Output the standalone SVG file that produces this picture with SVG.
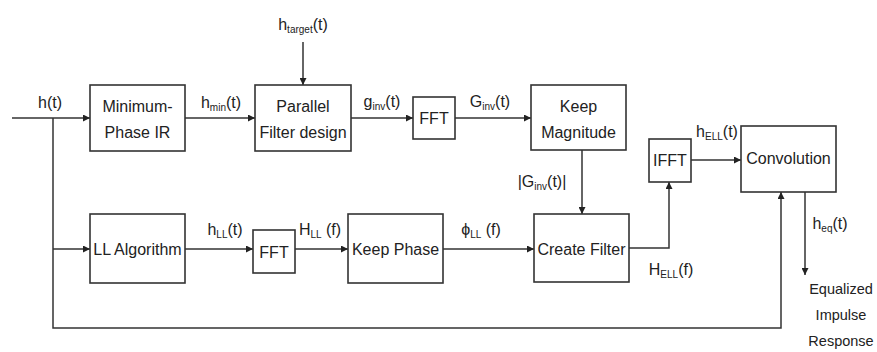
<svg xmlns="http://www.w3.org/2000/svg" width="877" height="352" viewBox="0 0 877 352">
<defs>
<marker id="arr" viewBox="0 0 10 10" refX="10" refY="5" markerWidth="7" markerHeight="7" markerUnits="userSpaceOnUse" orient="auto">
<path d="M0,0 L10,5 L0,10 z" fill="#222"/>
</marker>
<style>
.box{fill:#fff;stroke:#333;stroke-width:1.6}
.t{font-family:"Liberation Sans",Arial,sans-serif;font-size:16px;fill:#222;text-anchor:middle}
.s{font-size:10px}
.o{font-size:14.5px}
.c{fill:none;stroke:#333;stroke-width:1.5}
</style>
</defs>
<rect width="877" height="352" fill="#fff"/>
<g id="connectors">
<path class="c" d="M12 118 H90" marker-end="url(#arr)"/>
<path class="c" d="M185 118 H255" marker-end="url(#arr)"/>
<path class="c" d="M303 42 V85" marker-end="url(#arr)"/>
<path class="c" d="M351 118 H413" marker-end="url(#arr)"/>
<path class="c" d="M455 118 H531" marker-end="url(#arr)"/>
<path class="c" d="M582 150 V214" marker-end="url(#arr)"/>
<path class="c" d="M629 248 H669 V182" marker-end="url(#arr)"/>
<path class="c" d="M691 160 H741" marker-end="url(#arr)"/>
<path class="c" d="M805 192 V275" marker-end="url(#arr)"/>
<path class="c" d="M53 118 V328 H781 V192" marker-end="url(#arr)"/>
<path class="c" d="M53 249 H90" marker-end="url(#arr)"/>
<path class="c" d="M185 249 H253" marker-end="url(#arr)"/>
<path class="c" d="M295 249 H348" marker-end="url(#arr)"/>
<path class="c" d="M443 249 H534" marker-end="url(#arr)"/>
</g>
<g id="labels">
<text class="t" x="50" y="108">h(t)</text>
<text class="t" x="221" y="108">h<tspan class="s" dy="3">min</tspan><tspan dy="-3">(t)</tspan></text>
<text class="t" x="303" y="30">h<tspan class="s" dy="3">target</tspan><tspan dy="-3">(t)</tspan></text>
<text class="t" x="382" y="107">g<tspan class="s" dy="3">inv</tspan><tspan dy="-3">(t)</tspan></text>
<text class="t" x="490" y="107">G<tspan class="s" dy="3">inv</tspan><tspan dy="-3">(t)</tspan></text>
<text class="t" x="542" y="187">|G<tspan class="s" dy="3">inv</tspan><tspan dy="-3">(t)|</tspan></text>
<text class="t" x="717" y="137">h<tspan class="s" dy="3">ELL</tspan><tspan dy="-3">(t)</tspan></text>
<text class="t" x="671" y="275">H<tspan class="s" dy="3">ELL</tspan><tspan dy="-3">(f)</tspan></text>
<text class="t" x="830" y="229">h<tspan class="s" dy="3">eq</tspan><tspan dy="-3">(t)</tspan></text>
<text class="t" x="225" y="235">h<tspan class="s" dy="3">LL</tspan><tspan dy="-3">(t)</tspan></text>
<text class="t" x="320" y="235">H<tspan class="s" dy="3">LL</tspan><tspan dy="-3"> (f)</tspan></text>
<text class="t" x="481" y="235">ϕ<tspan class="s" dy="3">LL</tspan><tspan dy="-3"> (f)</tspan></text>
<text class="t o" x="841" y="294">Equalized</text>
<text class="t o" x="841" y="320">Impulse</text>
<text class="t o" x="841" y="346">Response</text>
</g>
<g id="minphase">
<rect class="box" x="90" y="85" width="95" height="66"/>
<text class="t" x="137.5" y="112">Minimum-</text>
<text class="t" x="137.5" y="138">Phase IR</text>
</g>
<g id="parallel">
<rect class="box" x="255" y="85" width="96" height="66"/>
<text class="t" x="303" y="112">Parallel</text>
<text class="t" x="303" y="138">Filter design</text>
</g>
<g id="fft1">
<rect class="box" x="413" y="97" width="42" height="42"/>
<text class="t" x="434" y="124">FFT</text>
</g>
<g id="keepmag">
<rect class="box" x="531" y="85" width="95" height="65"/>
<text class="t" x="578.5" y="112">Keep</text>
<text class="t" x="578.5" y="138">Magnitude</text>
</g>
<g id="ifft">
<rect class="box" x="649" y="139" width="42" height="43"/>
<text class="t" x="670" y="166">IFFT</text>
</g>
<g id="convolution">
<rect class="box" x="741" y="126" width="95" height="66"/>
<text class="t" x="788.5" y="164">Convolution</text>
</g>
<g id="llalg">
<rect class="box" x="90" y="214" width="95" height="69"/>
<text class="t" x="137.5" y="255">LL Algorithm</text>
</g>
<g id="fft2">
<rect class="box" x="253" y="230" width="42" height="43"/>
<text class="t" x="274" y="258">FFT</text>
</g>
<g id="keepphase">
<rect class="box" x="348" y="214" width="95" height="69"/>
<text class="t" x="395.5" y="255">Keep Phase</text>
</g>
<g id="createfilter">
<rect class="box" x="534" y="214" width="95" height="68"/>
<text class="t" x="581.5" y="255">Create Filter</text>
</g>
</svg>
